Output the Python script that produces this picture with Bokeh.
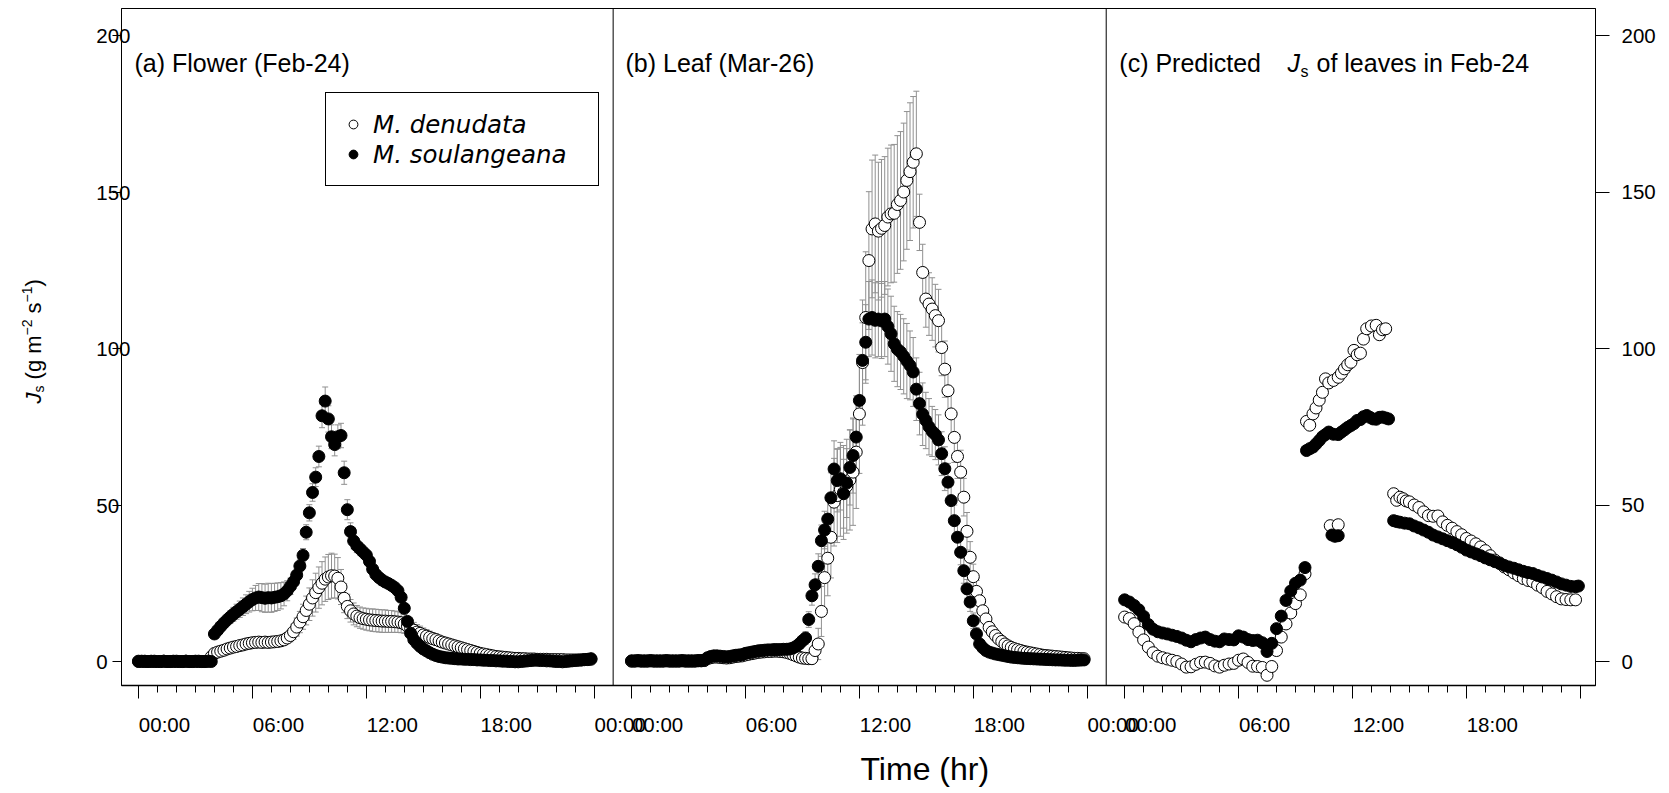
from bokeh.plotting import figure
from bokeh.layouts import row
from bokeh.models import (ColumnDataSource, Range1d, LinearAxis, FixedTicker, Whisker, TeeHead,
                          Span, Label, Legend, LegendItem, CustomJSTickFormatter, Title)
from bokeh.core.properties import value
from bokeh.embed import file_html
from bokeh.resources import INLINE

# ---------------- data ----------------
SERIES_NAMES = ["M. denudata", "M. soulangeana"]
PANEL_TITLES = ["(a) Flower (Feb-24)", "(b) Leaf (Mar-26)"]
X_TITLE = "Time (hr)"
MAJOR_HOURS = [0, 6, 12, 18, 24]
MAJOR_LABELS = ["00:00", "06:00", "12:00", "18:00", "00:00"]
Y_TICKS = [0, 50, 100, 150, 200]

# 10-min sampling times (hours) for panels (a) and (b)
t10 = [i / 6 for i in range(144)]

# (a) Flower, Feb-24
a_den = [0.1,0.0,0.1,0.0,0.0,0.1,0.0,0.0,0.1,0.0,
         0.0,0.0,0.1,0.0,0.0,0.1,0.0,0.0,0.0,0.1,
         0.0,0.0,0.1,1.5,2.6,3.0,3.3,3.6,4.0,4.3,
         4.6,4.8,5.1,5.3,5.6,5.8,6.0,6.1,6.2,6.1,
         6.2,6.1,6.2,6.3,6.4,6.6,6.9,7.5,8.3,9.5,
         11.0,12.6,14.3,16.3,18.3,20.3,22.0,23.6,25.0,26.3,
         27.0,27.4,27.3,26.6,23.8,20.2,17.6,16.2,15.2,14.5,
         14.0,13.7,13.5,13.3,13.2,13.1,13.0,12.9,12.9,12.8,
         12.8,12.7,12.6,12.4,12.0,11.3,10.6,10.0,9.4,9.0,
         8.5,8.1,7.7,7.3,7.0,6.6,6.2,5.9,5.6,5.3,
         5.0,4.7,4.4,4.1,3.8,3.5,3.2,2.9,2.6,2.4,
         2.2,2.0,1.8,1.6,1.5,1.4,1.3,1.2,1.1,1.0,
         1.0,0.9,0.9,0.8,0.8,0.8,0.7,0.7,0.7,0.7,
         0.6,0.6,0.6,0.6,0.6,0.5,0.5,0.5,0.5,0.5,
         0.5,0.6,0.6,0.7]
a_den_se = [0.1,0.1,0.1,0.1,0.1,0.1,0.1,0.1,0.1,0.1,
            0.1,0.1,0.1,0.1,0.1,0.1,0.1,0.1,0.1,0.1,
            0.1,0.1,0.1,
            0.5,0.6,0.7,0.7,0.8,0.8,0.9,0.9,1.0,1.0,1.0,1.1,1.1,
            1.1,1.2,1.2,1.2,1.2,1.2,1.2,1.3,1.3,1.4,1.5,1.7,
            2.0,2.4,2.9,3.4,4.0,4.6,5.2,5.8,6.2,6.6,6.9,7.1,
            7.2,7.2,7.0,6.6,5.6,4.6,3.9,
            3.6,3.5,3.4,3.4,3.4,3.5,3.5,3.6,3.6,3.6,3.6,3.6,3.5,3.5,3.4,3.3,3.2,
            3.0,2.8,2.6,2.5,2.4,2.3,2.2,2.1,2.0,1.9,1.8,1.7,1.6,1.5,1.4,1.3,1.2,1.1,1.0,0.9,0.9,0.8,0.7,0.7,
            0.6,0.6,0.5,0.5,0.5,0.4,0.4,0.4,0.4,0.3,
            0.3,0.3,0.3,0.3,0.3,0.3,0.2,0.2,0.2,0.2,
            0.2,0.2,0.2,0.2,0.2,0.2,0.2,0.2,0.2,0.2,
            0.2,0.2,0.2,0.2,0.2,0.2]
a_sou = [0.0,0.1,0.0,0.0,0.1,0.0,0.0,0.0,0.1,0.0,
         0.0,0.1,0.0,0.0,0.0,0.1,0.0,0.0,0.1,0.0,
         0.0,0.0,0.1,0.0,
         8.8,10.0,11.2,12.3,13.3,14.2,15.1,15.9,16.7,17.5,18.3,19.1,
         19.8,20.3,20.6,20.4,20.2,20.4,20.3,20.5,20.7,21.0,21.6,22.6,
         24.0,25.5,27.6,30.5,33.9,41.3,47.5,54.0,58.9,65.5,78.5,83.2,
         77.5,71.8,69.3,71.8,72.2,60.3,48.5,41.5,38.5,37.0,36.0,35.0,
         34.0,32.0,29.5,27.8,26.8,26.0,25.4,24.9,24.3,23.6,22.6,20.5,
         17.0,12.8,9.0,7.0,5.8,4.8,4.0,3.4,2.8,2.3,1.9,1.6,1.4,
         1.2,1.1,1.0,0.9,0.8,0.8,0.7,0.7,0.6,0.6,
         0.5,0.5,0.4,0.4,0.3,0.3,0.2,0.2,0.1,0.1,
         0.0,0.0,-0.1,-0.1,0.0,0.1,0.2,0.3,0.4,0.4,
         0.3,0.3,0.2,0.2,0.1,0.0,0.0,-0.1,0.0,0.1,
         0.2,0.3,0.4,0.5,0.6,0.7,0.9]
a_sou_se = [0.1,0.1,0.1,0.1,0.1,0.1,0.1,0.1,0.1,0.1,
            0.1,0.1,0.1,0.1,0.1,0.1,0.1,0.1,0.1,0.1,
            0.1,0.1,0.1,0.1,
            1.0,1.2,1.4,1.6,1.8,2.0,2.2,2.4,2.6,2.8,3.0,3.3,
            3.6,4.0,4.3,4.5,4.5,4.6,4.6,4.5,4.4,4.2,3.8,3.2,
            2.6,2.2,2.0,2.0,2.2,2.4,2.6,2.8,3.0,3.3,
            3.8,4.5,4.2,3.8,3.6,3.8,3.9,3.7,3.2,
            2.8,2.5,2.2,2.0,1.9,1.8,1.8,1.7,1.7,1.6,1.6,1.5,1.5,1.5,1.4,1.4,1.3,
            1.2,1.1,1.0,0.9,0.8,0.8,0.7,0.7,0.6,0.6,
            0.5,0.5,0.5,0.5,0.4,0.4,0.4,0.4,0.4,0.4,
            0.3,0.3,0.3,0.3,0.3,0.3,0.3,0.3,0.3,0.3,
            0.3,0.3,0.3,0.3,0.3,0.3,0.3,0.3,0.3,0.3,
            0.3,0.3,0.3,0.3,0.3,0.3,0.3,0.3,0.3,0.3,
            0.3,0.3,0.3,0.3,0.3,0.3,0.3,0.3,0.3,0.3]

# (b) Leaf, Mar-26
b_den = [0.1,0.1,0.2,0.1,0.1,0.1,0.2,0.1,0.1,0.1,
         0.1,0.2,0.1,0.1,0.1,0.1,0.2,0.1,0.1,0.1,
         0.1,0.2,0.2,0.3,
         0.9,1.2,1.4,1.4,1.3,1.2,1.1,1.2,1.4,1.6,1.7,1.8,
         2.1,2.3,2.5,2.7,2.9,3.0,3.1,3.2,3.2,3.3,3.3,3.2,3.1,2.9,2.6,
         2.2,1.8,1.4,1.1,1.0,0.9,0.9,3.5,5.6,
         16.0,26.8,33.0,39.7,50.9,53.0,55.0,54.0,56.0,58.0,60.5,66.9,
         79.1,95.5,109.9,128.1,138.2,139.8,137.5,138.4,139.3,142.0,143.0,143.2,
         146.0,147.3,150.0,153.7,156.5,159.5,162.2,140.3,124.3,115.8,114.2,112.6,
         110.5,108.9,100.3,93.4,86.5,79.1,71.6,65.5,60.5,52.5,41.6,33.3,
         27.1,22.4,19.4,16.2,13.6,10.9,9.5,8.3,7.2,6.4,5.6,5.0,4.5,
         4.1,3.8,3.5,3.2,3.0,2.8,2.6,2.4,2.2,2.0,1.9,1.8,1.7,1.6,1.5,1.4,1.3,1.2,1.1,1.0,1.0,0.9,0.9]
b_den_se = [0.2,0.2,0.2,0.2,0.2,0.2,0.2,0.2,0.2,0.2,
            0.2,0.2,0.2,0.2,0.2,0.2,0.2,0.2,0.2,0.2,
            0.2,0.2,0.2,0.2,
            0.3,0.3,0.3,0.3,0.3,0.3,0.3,0.3,0.3,0.3,
            0.4,0.4,0.4,0.4,0.4,0.4,0.4,0.4,0.4,0.4,
            0.5,0.5,0.5,0.5,0.5,0.5,0.5,
            0.5,0.5,0.6,0.6,0.8,1.0,1.5,3.0,5.0,
            8.0,10.0,12.0,13.0,14.0,15.0,15.0,15.0,15.0,16.0,17.0,18.0,
            19,20,21,22,22,22,22,22,22,22,22,22,22,22,22,22,22,21,20,
            9,9,9,10,10,10,10,9,9,8,8,
            8,7,7,6,6,5,4,3.5,3,2.5,2,1.8,
            1.5,1.4,1.3,1.2,1.1,1.0,1.0,0.9,0.9,0.8,
            0.8,0.7,0.7,0.7,0.6,0.6,0.6,0.5,0.5,0.5,
            0.5,0.4,0.4,0.4,0.4,0.4,0.3,0.3,0.3,0.3]
b_sou = [0.2,0.2,0.3,0.2,0.2,0.2,0.3,0.2,0.2,0.2,
         0.2,0.3,0.2,0.2,0.2,0.2,0.3,0.2,0.2,0.2,
         0.2,0.3,0.3,0.4,
         1.2,1.6,1.8,1.8,1.7,1.6,1.5,1.6,1.8,2.0,2.1,2.2,
         2.6,2.8,3.0,3.2,3.4,3.5,3.6,3.7,3.7,3.8,3.8,3.8,3.9,3.9,4.0,
         4.3,4.8,5.6,6.6,7.5,13.4,21.0,24.5,30.4,
         38.6,42.0,45.5,52.3,61.5,57.8,58.4,53.6,57.0,62.0,65.8,71.7,
         83.4,96.2,102.0,109.4,109.9,109.0,109.4,108.8,109.4,107.0,104.7,101.5,
         99.8,98.9,97.5,96.0,94.6,92.5,87.0,82.4,79.0,77.0,75.0,73.5,
         72.5,70.8,66.4,61.6,57.3,51.4,45.0,39.7,34.9,29.0,23.2,19.0,
         13.0,8.8,5.6,4.4,3.5,3.0,2.7,2.4,2.2,2.0,1.8,1.6,1.4,
         1.3,1.2,1.1,1.0,0.95,0.9,0.85,0.8,0.75,0.7,0.65,0.6,0.55,0.5,0.5,0.45,0.4,0.4,0.35,0.35,0.4,0.45,0.5]
b_sou_se = [0.2,0.2,0.2,0.2,0.2,0.2,0.2,0.2,0.2,0.2,
            0.2,0.2,0.2,0.2,0.2,0.2,0.2,0.2,0.2,0.2,
            0.2,0.2,0.2,0.2,
            0.3,0.3,0.3,0.3,0.3,0.3,0.3,0.3,0.3,0.3,
            0.4,0.4,0.4,0.4,0.4,0.4,0.4,0.4,0.4,0.4,
            0.5,0.5,0.5,0.5,0.5,0.5,0.5,
            0.6,0.8,1.0,1.5,2.0,2.5,3.0,3.5,4.0,
            5,6,7,8,9,10,10,11,11,12,12,12,
            12,12,12,12,12,12,12,12,12,12,12,12,12,12,12,12,11,11,10,
            10,10,9,9,8,8,8,7,7,6,6,5,5,4,4,3,3,2.5,2,1.6,1.2,1.0,0.9,
            0.8,0.8,0.7,0.7,0.7,0.6,0.6,0.6,0.5,0.5,
            0.5,0.5,0.4,0.4,0.4,0.4,0.4,0.3,0.3,0.3,
            0.3,0.3,0.3,0.3,0.3,0.2,0.2,0.2,0.2,0.2]

# (c) Predicted Js of leaves in Feb-24 (time in hours, value)
c_den_t = [0.00,0.25,0.50,0.75,1.00,1.25,1.50,1.75,2.00,2.25,2.50,2.75,3.00,3.25,3.50,3.75,
           4.00,4.25,4.50,4.75,5.00,5.25,5.50,5.75,6.00,6.25,6.50,6.75,7.00,7.25,7.50,7.75,
           8.00,8.25,8.50,8.75,9.00,9.25,9.50,
           9.58,9.75,9.92,10.08,10.25,10.42,10.58,10.75,11.00,11.25,11.42,11.58,11.75,11.92,
           12.08,12.25,12.42,12.58,12.75,13.00,13.25,13.42,13.58,13.75,
           10.83,11.25,
           14.17,14.33,14.50,14.67,14.83,15.00,15.25,15.50,15.75,16.00,16.25,16.50,16.75,17.00,
           17.25,17.50,17.75,18.00,18.25,18.50,18.75,19.00,19.25,19.50,19.75,20.00,20.25,20.50,
           20.75,21.00,21.25,21.50,21.75,22.00,22.25,22.50,22.75,23.00,23.25,23.50,23.75]
c_den_v = [14.2,13.7,12.1,9.4,6.9,4.6,2.8,1.7,1.2,0.8,0.4,0.0,-0.8,-1.8,-1.7,-0.9,
           -0.3,-0.2,-0.6,-1.4,-1.8,-1.2,-0.8,-0.6,0.4,0.8,-0.3,-1.5,-1.6,-1.9,-4.4,-1.6,
           3.5,7.8,12.0,15.5,18.5,21.3,28.0,
           76.7,75.5,79.1,81.0,83.5,86.0,90.3,89.0,89.8,90.8,92.1,93.5,94.8,95.6,
           99.4,98.0,98.5,103.0,106.3,107.2,107.4,104.4,106.0,106.3,
           43.4,43.7,
           53.6,51.5,52.5,52.0,51.3,51.0,50.0,49.2,47.8,46.6,46.4,46.5,44.6,43.5,
           42.6,41.5,40.5,39.3,38.5,37.6,36.6,35.4,33.8,32.4,31.5,30.2,29.3,28.3,
           27.4,26.5,25.9,25.5,24.4,23.6,22.4,21.6,20.7,20.0,19.8,19.7,19.7]
c_sou_t = [0.00,0.25,0.50,0.75,1.00,1.25,1.50,1.75,2.00,2.25,2.50,2.75,3.00,3.25,3.50,3.75,
           4.00,4.25,4.50,4.75,5.00,5.25,5.50,5.75,6.00,6.25,6.50,6.75,7.00,7.25,7.50,7.75,
           8.00,8.25,8.50,8.75,9.00,9.25,9.50,
           10.92,11.08,11.25,
           9.58,9.75,9.92,10.08,10.25,10.42,10.58,10.75,11.00,11.25,11.42,11.58,11.75,11.92,
           12.08,12.25,12.42,12.58,12.75,12.92,13.08,13.25,13.42,13.58,13.75,13.90,
           14.17,14.33,14.50,14.75,15.00,15.25,15.50,15.75,16.00,16.25,16.50,16.75,17.00,17.25,
           17.50,17.75,18.00,18.25,18.50,18.75,19.00,19.25,19.50,19.75,20.00,20.25,20.50,20.75,
           21.00,21.25,21.50,21.75,22.00,22.25,22.50,22.75,23.00,23.25,23.50,23.75,23.90]
c_sou_v = [19.7,19.0,17.9,16.5,14.4,11.8,10.3,9.5,9.1,8.8,8.4,8.0,7.5,6.8,6.3,7.0,
           7.5,7.8,7.0,6.5,6.3,7.2,7.0,6.9,8.2,7.8,7.0,6.7,6.8,6.0,3.2,5.8,
           10.5,14.5,19.5,22.5,25.0,26.0,30.0,
           40.4,40.0,40.2,
           67.4,68.0,68.5,69.5,70.6,71.8,72.5,73.3,72.6,72.5,73.3,74.0,74.8,75.4,
           76.0,77.0,77.3,78.2,78.6,78.0,77.5,77.4,78.0,78.1,77.8,77.5,
           45.0,44.7,44.5,44.2,44.0,43.3,42.7,42.0,41.3,40.4,39.8,39.2,38.6,38.0,
           37.3,36.5,35.6,35.0,34.4,33.8,33.1,32.5,31.9,31.3,30.7,30.2,29.8,29.3,
           28.8,28.4,28.1,27.5,27.0,26.5,26.0,25.4,24.8,24.4,24.0,23.9,24.1]

# ---------------- geometry helpers (pixel -> data) ----------------
FONT = "Liberation Sans"
GRAY = "#909090"
LABEL_W = 60                      # width of the narrow strip holding the y title
FRAME_L, FRAME_R, FRAME_T, FRAME_B = 121, 1595, 8, 685
PX_PER_H = 18.986
X0 = -0.895
Y0_PX = 661.0
PX_PER_U = 3.13
OFFSETS = [0.0, 25.97, 51.94]
LABEL_SHIFT = 1.37
NB = "\u00a0"


def hx(px):
    return X0 + (px - FRAME_L) / PX_PER_H


def vy(py):
    return (Y0_PX - py) / PX_PER_U


p = figure(frame_width=FRAME_R - FRAME_L, frame_height=FRAME_B - FRAME_T,
           x_range=Range1d(X0, hx(FRAME_R)), y_range=Range1d(vy(FRAME_B), vy(FRAME_T)),
           output_backend="svg", toolbar_location=None,
           x_axis_location=None, y_axis_location=None,
           min_border_left=FRAME_L - LABEL_W, min_border_right=1669 - FRAME_R,
           min_border_top=FRAME_T, min_border_bottom=793 - FRAME_B)
p.xgrid.visible = False
p.ygrid.visible = False
p.outline_line_color = "black"
p.outline_line_width = 1
p.background_fill_color = "white"
p.border_fill_color = "white"

# ---- axes ----
majors, minors, lab_ticks, lab_text = [], [], [], []
for off in OFFSETS:
    for h in range(25):
        (majors if h % 6 == 0 else minors).append(round(off + h, 3))
    for h, s in zip(MAJOR_HOURS, MAJOR_LABELS):
        lab_ticks.append(round(off + h + LABEL_SHIFT, 3))
        lab_text.append(s)

xa = LinearAxis(ticker=FixedTicker(ticks=majors, minor_ticks=minors),
                formatter=CustomJSTickFormatter(code="return ''"),
                major_tick_out=13, major_tick_in=0, minor_tick_out=7, minor_tick_in=0,
                major_label_standoff=0, axis_line_width=1.5, axis_line_color="black",
                major_tick_line_color="black", minor_tick_line_color="black",
                major_label_text_font_size="1px")
p.add_layout(xa, "below")
xl = LinearAxis(ticker=FixedTicker(ticks=lab_ticks, minor_ticks=[]),
                formatter=CustomJSTickFormatter(args=dict(labs=lab_text), code="return labs[index]"),
                major_tick_out=0, major_tick_in=0, axis_line_color=None,
                major_tick_line_color=None, minor_tick_line_color=None,
                major_label_standoff=14, major_label_text_font=FONT,
                major_label_text_font_size="20.5px", major_label_text_color="black")
p.add_layout(xl, "below")
p.add_layout(Title(text=X_TITLE, align="left", offset=739, standoff=20,
                   text_font=FONT, text_font_size="32px", text_font_style="normal",
                   text_color="black"), "below")

FS = "\u2007"
left_labels = ["0" + FS + FS, "50" + FS, "100", "150", "200"]
yl = LinearAxis(ticker=FixedTicker(ticks=Y_TICKS, minor_ticks=[]),
                formatter=CustomJSTickFormatter(args=dict(labs=left_labels), code="return labs[index]"),
                major_tick_out=9, major_tick_in=0, major_label_standoff=-18,
                axis_line_color="black", major_tick_line_color="black",
                major_label_text_font=FONT, major_label_text_font_size="20.5px",
                major_label_text_color="black")
p.add_layout(yl, "left")
yr = LinearAxis(ticker=FixedTicker(ticks=Y_TICKS, minor_ticks=[]),
                major_tick_out=14, major_tick_in=0, major_label_standoff=12,
                axis_line_color="black", major_tick_line_color="black",
                major_label_text_font=FONT, major_label_text_font_size="20.5px",
                major_label_text_color="black")
p.add_layout(yr, "right")

# panel dividers
for k in (1, 2):
    p.add_layout(Span(location=OFFSETS[k] - 0.97, dimension="height",
                      line_color="black", line_width=1))


# ---- series ----
def add_err(t, v, se, off):
    src = ColumnDataSource(dict(x=[ti + off for ti in t],
                                lo=[a - b for a, b in zip(v, se)],
                                hi=[a + b for a, b in zip(v, se)]))
    p.add_layout(Whisker(source=src, base="x", lower="lo", upper="hi", dimension="height",
                         line_color=GRAY, line_width=1,
                         upper_head=TeeHead(size=6, line_color=GRAY, line_width=1),
                         lower_head=TeeHead(size=6, line_color=GRAY, line_width=1)))


def add_pts(t, v, off, filled):
    src = ColumnDataSource(dict(x=[ti + off for ti in t], y=v))
    return p.scatter("x", "y", source=src, marker="circle", size=12,
                     fill_color="black" if filled else "white",
                     line_color="black", line_width=1)


add_err(t10, a_den, a_den_se, OFFSETS[0])
add_err(t10, a_sou, a_sou_se, OFFSETS[0])
add_err(t10, b_den, b_den_se, OFFSETS[1])
add_err(t10, b_sou, b_sou_se, OFFSETS[1])

r_open = add_pts(t10, a_den, OFFSETS[0], False)
r_fill = add_pts(t10, a_sou, OFFSETS[0], True)
add_pts(t10, b_den, OFFSETS[1], False)
add_pts(t10, b_sou, OFFSETS[1], True)
add_pts(c_den_t, c_den_v, OFFSETS[2], False)
add_pts(c_sou_t, c_sou_v, OFFSETS[2], True)

# ---- legend ----
legend = Legend(items=[LegendItem(label=value(SERIES_NAMES[0]), renderers=[r_open]),
                       LegendItem(label=value(SERIES_NAMES[1]), renderers=[r_fill])],
                location=(325 - FRAME_L, FRAME_B - 186), orientation="vertical",
                padding=16, spacing=0, margin=0, glyph_width=22, glyph_height=30,
                label_height=30, label_width=209, label_standoff=9,
                border_line_color="black", border_line_width=1, border_line_alpha=1,
                background_fill_color="white", background_fill_alpha=1,
                label_text_font="DejaVu Sans", label_text_font_style="italic",
                label_text_font_size="24.5px", label_text_color="black")
p.add_layout(legend)


# ---- panel titles ----
def lab(px, py, text, size, style="normal"):
    p.add_layout(Label(x=hx(px), y=vy(py), text=text, text_font=FONT, text_font_size=size,
                       text_font_style=style, text_align="left", text_baseline="middle",
                       text_color="black"))


lab(134, 62, PANEL_TITLES[0], "25px")
lab(625, 62, PANEL_TITLES[1], "25px")
lab(1118.8, 62, "(c) Predicted", "25px")
lab(1287, 62, "J", "25px", style="italic")
lab(1300, 70.5, "s", "16px")
lab(1316, 62, "of leaves in Feb-24", "25px")

# ---- narrow strip on the left with the rotated y title: Js (g m-2 s-1) ----
lf = figure(frame_width=LABEL_W, frame_height=793, x_range=Range1d(0, LABEL_W),
            y_range=Range1d(793, 0), output_backend="svg", toolbar_location=None,
            x_axis_location=None, y_axis_location=None, min_border=0)
lf.xgrid.visible = False
lf.ygrid.visible = False
lf.outline_line_color = None
lf.background_fill_color = "white"
lf.border_fill_color = "white"


def vlab(px, py, text, size, style="normal"):
    lf.add_layout(Label(x=px, y=py, text=text, text_font=FONT, text_font_size=size,
                        text_font_style=style, text_align="left", text_baseline="middle",
                        text_color="black", angle=90, angle_units="deg"))


MID = 33
Y_START = 395
vlab(MID, Y_START, "J", "22px", style="italic")
vlab(MID + 5, Y_START - 11, "s", "14px")
vlab(MID, Y_START - 18, NB + "(g" + NB + "m", "22px")
vlab(MID - 7, Y_START - 68, "\u22122", "14px")
vlab(MID, Y_START - 84, NB + "s", "22px")
vlab(MID - 7, Y_START - 101, "\u22121", "14px")
vlab(MID, Y_START - 117, ")", "22px")

layout = row(lf, p)
open("out.html", "w").write(file_html(layout, INLINE))
